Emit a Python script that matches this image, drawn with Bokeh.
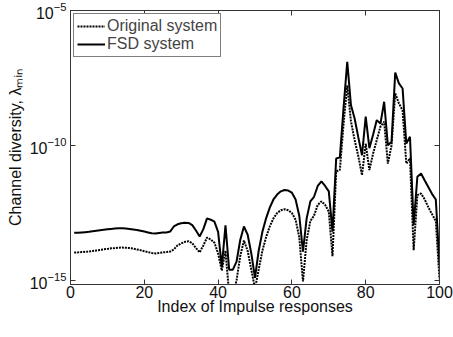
from bokeh.plotting import figure
from bokeh.models import (FixedTicker, LogAxis, LinearAxis, Range1d, Legend,
                          LegendItem, CustomJSTickFormatter)
from bokeh.embed import file_html
from bokeh.resources import INLINE

# ---- data (log10 of lambda_min) ----
index = list(range(1, 101))
fsd_log = [
    -13.23, -13.23, -13.22, -13.21, -13.20, -13.18, -13.16, -13.14, -13.12, -13.10,
    -13.09, -13.08, -13.07, -13.07, -13.08, -13.09, -13.11, -13.13, -13.16, -13.19,
    -13.22, -13.25, -13.26, -13.24, -13.22, -13.22, -13.19, -13.00, -12.92, -12.88,
    -12.86, -12.87, -12.95, -13.15, -13.37, -13.10, -12.70, -12.75, -12.82, -13.20,
    -14.50, -12.96, -14.60, -14.60, -14.30, -13.50, -13.00, -13.30, -14.00, -14.90,
    -13.90, -13.20, -12.70, -12.30, -12.00, -11.82, -11.70, -11.65, -11.67, -11.75,
    -12.00, -12.60, -13.93, -12.70, -12.07, -11.90, -11.50, -11.33, -11.50, -11.70,
    -13.19, -10.48, -10.44, -8.60, -6.90, -8.50, -9.00, -9.70, -10.36, -8.93,
    -10.10, -9.60, -9.06, -9.19, -8.38, -9.99, -9.86, -7.30, -7.70, -7.89,
    -9.93, -9.68, -12.95, -11.16, -11.04, -11.30, -11.55, -11.80, -12.00, -14.40,
]
orig_log = [
    -13.96, -13.96, -13.95, -13.94, -13.93, -13.91, -13.89, -13.87, -13.85, -13.83,
    -13.81, -13.80, -13.79, -13.78, -13.79, -13.80, -13.82, -13.85, -13.88, -13.92,
    -13.95, -13.98, -14.00, -13.98, -13.96, -13.95, -13.93, -13.85, -13.70, -13.63,
    -13.57, -13.55, -13.62, -13.80, -13.96, -13.70, -13.41, -13.48, -13.60, -14.00,
    -14.63, -13.90, -15.50, -15.50, -15.00, -14.10, -13.52, -13.90, -14.60, -15.30,
    -14.60, -13.90, -13.40, -13.00, -12.70, -12.50, -12.40, -12.36, -12.40, -12.50,
    -12.75, -13.40, -15.04, -13.50, -12.80, -12.60, -12.20, -12.07, -12.20, -12.45,
    -14.10, -10.96, -10.90, -9.20, -7.77, -9.10, -9.80, -10.40, -11.10, -9.93,
    -10.91, -10.30, -9.80, -9.30, -9.12, -10.67, -10.00, -8.07, -8.44, -8.70,
    -10.67, -10.48, -13.88, -11.84, -11.78, -12.00, -12.30, -12.55, -12.80, -14.95,
]
x_ticks = [0, 20, 40, 60, 80, 100]
y_ticks = [1e-15, 1e-10, 1e-5]
series_names = ["Original system", "FSD system"]
x_label = "Index of Impulse responses"
y_label = "Channel diversity, λₘᵢₙ"

fsd = [10 ** v for v in fsd_log]
orig = [10 ** v for v in orig_log]

FONT = "Liberation Sans"
AX = "#333333"

p = figure(width=453, height=337, output_backend="svg", toolbar_location=None,
           y_axis_type="log", x_range=Range1d(0, 100),
           y_range=Range1d(10 ** -15.15, 1e-5),
           min_border_left=70, min_border_right=14,
           min_border_top=10, min_border_bottom=53,
           background_fill_color="white", border_fill_color="white")
p.outline_line_color = AX
p.grid.visible = False

def style(ax):
    ax.axis_line_color = AX
    ax.major_tick_line_color = AX
    ax.major_tick_in = 5
    ax.major_tick_out = 0
    ax.minor_tick_line_color = None
    ax.major_label_text_font = FONT
    ax.major_label_text_font_size = "16px"
    ax.major_label_text_color = "#111111"
    ax.axis_label_text_font = FONT
    ax.axis_label_text_font_size = "16px"
    ax.axis_label_text_font_style = "normal"
    ax.axis_label_text_color = "#111111"

p.xaxis.ticker = FixedTicker(ticks=x_ticks)
p.yaxis.ticker = FixedTicker(ticks=y_ticks)
style(p.xaxis[0])
style(p.yaxis[0])
p.xaxis.major_label_standoff = 1
p.yaxis.major_label_standoff = 4
p.xaxis.axis_label = x_label
p.xaxis.axis_label_standoff = -3
p.yaxis.axis_label = y_label
p.yaxis.axis_label_standoff = 3

blank = CustomJSTickFormatter(code="return ''")
top = LinearAxis(ticker=FixedTicker(ticks=x_ticks), formatter=blank)
style(top)
top.major_label_standoff = 0
p.add_layout(top, "above")
right = LogAxis(ticker=FixedTicker(ticks=y_ticks), formatter=blank)
style(right)
right.major_label_standoff = 0
p.add_layout(right, "right")

r_orig = p.line(index, orig, line_color="black", line_width=2, line_dash="2 1")
r_fsd = p.line(index, fsd, line_color="black", line_width=2)

legend = Legend(items=[LegendItem(label=series_names[0], renderers=[r_orig]),
                       LegendItem(label=series_names[1], renderers=[r_fsd])],
                location="top_left", margin=3, padding=3, spacing=0,
                label_text_font=FONT, label_text_font_size="16px",
                label_standoff=2, glyph_width=28, glyph_height=16,
                label_height=16, border_line_color="black",
                border_line_width=1, background_fill_color="white",
                background_fill_alpha=1.0)
p.add_layout(legend, "center")

open("out.html", "w").write(file_html(p, INLINE))
